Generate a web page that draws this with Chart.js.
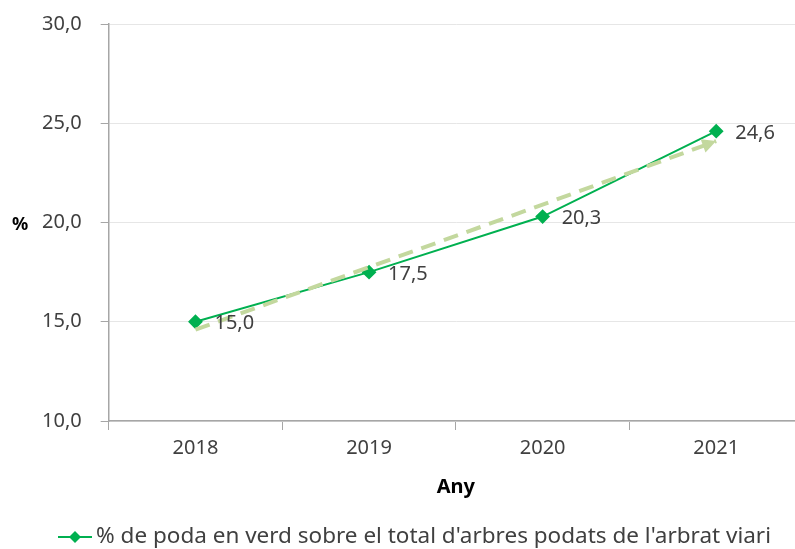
<!DOCTYPE html>
<html>
<head>
<meta charset="utf-8">
<script src="https://cdn.jsdelivr.net/npm/chart.js@4/dist/chart.umd.min.js"></script>
<style>
  html, body { margin: 0; padding: 0; background: #fff; overflow: hidden; }
  #wrap { width: 811px; height: 549px; position: relative; }
</style>
</head>
<body>
<div id="wrap"><canvas id="chart"></canvas></div>
<script>
// Data
const years = ['2018', '2019', '2020', '2021']
const podaVerd = [15.0, 17.5, 20.3, 24.6]
const trendValues = [14.6, 17.75, 20.9, 24.1]
const yTicks = [10, 15, 20, 25, 30]
const seriesLabel = "% de poda en verd sobre el total d'arbres podats de l'arbrat viari"

const green = '#00b050'
const trendColor = '#c3d89e'
const textColor = '#404040'
const axisColor = '#a6a6a6'
const fontFamily = '"Noto Sans", "Open Sans", sans-serif'

const fmt = (v) => v.toFixed(1).replace('.', ',')

// value labels to the right of each point
const valueLabels = {
  id: 'valueLabels',
  afterDatasetsDraw(chart) {
    const meta = chart.getDatasetMeta(1)
    const ctx = chart.ctx
    ctx.save()
    ctx.font = '20px ' + fontFamily
    ctx.fillStyle = textColor
    ctx.textAlign = 'left'
    ctx.textBaseline = 'middle'
    meta.data.forEach((pt, i) => {
      ctx.fillText(fmt(podaVerd[i]), pt.x + 19, pt.y + 2)
    })
    ctx.restore()
  }
}

// arrow head at the end of the trend line
const trendArrow = {
  id: 'trendArrow',
  afterDatasetsDraw(chart) {
    const pts = chart.getDatasetMeta(0).data
    const a = pts[pts.length - 2]
    const b = pts[pts.length - 1]
    const ang = Math.atan2(b.y - a.y, b.x - a.x)
    const ctx = chart.ctx
    ctx.save()
    ctx.translate(b.x, b.y)
    ctx.rotate(ang)
    ctx.fillStyle = trendColor
    ctx.beginPath()
    ctx.moveTo(0, 0)
    ctx.lineTo(-14, -7)
    ctx.lineTo(-14, 7)
    ctx.closePath()
    ctx.fill()
    ctx.restore()
  }
}

// horizontal "%" axis title and the bottom legend
const extras = {
  id: 'extras',
  afterDraw(chart) {
    const ctx = chart.ctx
    const y = chart.scales.y.getPixelForValue(20)
    ctx.save()
    ctx.font = 'bold 18px ' + fontFamily
    ctx.fillStyle = '#000'
    ctx.textAlign = 'center'
    ctx.textBaseline = 'middle'
    ctx.fillText('%', 20, y + 2)

    // legend: line with diamond + text
    const ly = 537
    ctx.strokeStyle = green
    ctx.lineWidth = 2
    ctx.beginPath()
    ctx.moveTo(58, ly)
    ctx.lineTo(92, ly)
    ctx.stroke()
    ctx.fillStyle = green
    ctx.beginPath()
    ctx.moveTo(75, ly - 6)
    ctx.lineTo(81, ly)
    ctx.lineTo(75, ly + 6)
    ctx.lineTo(69, ly)
    ctx.closePath()
    ctx.fill()
    ctx.font = '22.5px ' + fontFamily
    ctx.fillStyle = textColor
    ctx.textAlign = 'left'
    ctx.fillText(seriesLabel, 96, ly)
    ctx.restore()
  }
}

new Chart(document.getElementById('chart'), {
  type: 'line',
  data: {
    labels: years,
    datasets: [
      {
        label: 'trend',
        data: trendValues,
        borderColor: trendColor,
        borderWidth: 4,
        borderDash: [15, 9],
        pointRadius: 0,
        fill: false
      },
      {
        label: seriesLabel,
        data: podaVerd,
        borderColor: green,
        backgroundColor: green,
        borderWidth: 2,
        pointStyle: 'rectRot',
        pointRadius: 6,
        pointHoverRadius: 6,
        fill: false
      }
    ]
  },
  options: {
    responsive: true,
    maintainAspectRatio: false,
    animation: false,
    layout: { padding: { top: 24, left: 23, right: 0, bottom: 0 } },
    plugins: {
      tooltip: { enabled: false },
      legend: { display: false }
    },
    scales: {
      x: {
        offset: true,
        afterFit: (axis) => {
          axis.height = 128
        },
        grid: {
          drawOnChartArea: false,
          drawTicks: true,
          tickLength: 9,
          tickColor: axisColor,
          offset: true
        },
        border: { color: axisColor, width: 1.5 },
        ticks: {
          color: textColor,
          font: { family: fontFamily, size: 20 },
          padding: 6
        },
        title: {
          display: true,
          text: 'Any',
          color: '#000',
          font: { family: fontFamily, size: 20, weight: 'bold' },
          padding: { top: 8, bottom: 50 }
        }
      },
      y: {
        min: 10,
        max: 30,
        afterBuildTicks: (axis) => {
          axis.ticks = yTicks.map((v) => ({ value: v }))
        },
        afterFit: (axis) => {
          axis.paddingTop = 0
          axis.paddingBottom = 0
        },
        grid: {
          color: '#e6e6e6',
          tickColor: axisColor,
          tickLength: 8
        },
        border: { color: axisColor, width: 1.5 },
        ticks: {
          color: textColor,
          font: { family: fontFamily, size: 20 },
          padding: 19,
          callback: (v) => fmt(v)
        }
      }
    }
  },
  plugins: [valueLabels, trendArrow, extras]
})
</script>
</body>
</html>
